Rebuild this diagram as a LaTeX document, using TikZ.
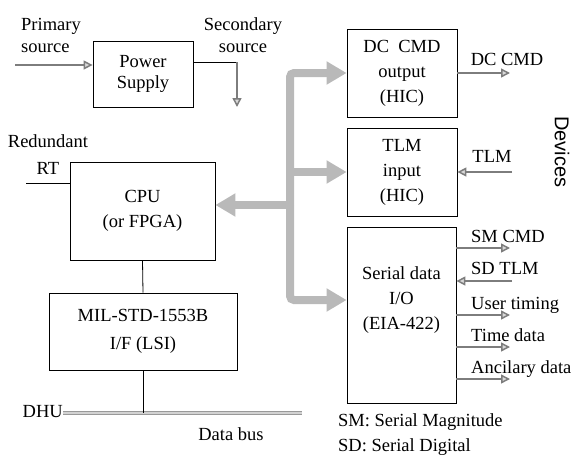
\documentclass[tikz,border=0pt]{standalone}
\usepackage{fontspec}
\setmainfont{Liberation Serif}
\setsansfont{Liberation Sans}
\usepackage{tikz}
\usetikzlibrary{positioning,arrows.meta,calc}
\definecolor{BusGray}{RGB}{185,185,185}
\definecolor{SigGray}{RGB}{125,125,125}

\begin{document}
\begin{tikzpicture}[x=1pt, y=-1pt,
    box/.style={draw, line width=0.8pt, align=center, inner sep=0pt,
        font=\fontsize{18.5}{25}\selectfont},
    txt/.style={align=center, inner sep=0pt, font=\fontsize{18.5}{25}\selectfont},
    lbl/.style={inner sep=0pt, font=\fontsize{18.5}{22}\selectfont},
    sig/.style={draw=SigGray, line width=1.5pt,
        -{Triangle[length=9pt, width=9pt, fill=gray!30]}},
    bus/.style={draw=BusGray, line width=8pt,
        -{Triangle[length=20pt, width=22pt, fill=BusGray]}},
    databus/.style={draw=gray!80, line width=0.8pt, double=gray!35, double distance=2.5pt},
]
\useasboundingbox (0,0) rectangle (578,458);

% blocks
\node[box, minimum width=100, minimum height=66, font=\fontsize{18.5}{21}\selectfont] (psu) at (143,74) {Power\\Supply};
\node[box, minimum width=145, minimum height=98] (cpu) at (142.5,211) {CPU\\(or FPGA)};
\node[box, minimum width=188, minimum height=77, font=\fontsize{18.5}{28}\selectfont] (mil) at (143,331.5) {MIL-STD-1553B\\I/F (LSI)};
\node[box, minimum width=110, minimum height=88] (dccmd) at (402,73) {DC\ \ CMD\\output\\(HIC)};
\node[box, minimum width=110, minimum height=88] (tlm) at (402,172) {TLM\\input\\(HIC)};
\node[box, minimum width=109, minimum height=176] (sio) at (401.5,315) {};
\node[txt] (siotxt) at (401.5,300) {Serial data\\I/O\\(EIA-422)};

% power
\node[lbl, align=left, anchor=west] (prilbl) at (21,35) {Primary\\source};
\node[lbl, align=center] (seclbl) at (243,35) {Secondary\\source};
\coordinate (prim) at (15,65);
\coordinate (sec) at (237,107);
\coordinate (secturn) at (237,62);
\draw[sig] (prim) -- (prim -| psu.west);
\draw[line width=0.8pt] (psu.east |- secturn) -- (secturn);
\draw[sig] (secturn) -- (sec);

% bus to devices
\coordinate (jn) at (290,205);
\draw[bus, rounded corners=4] (jn) |- (dccmd.west);
\draw[bus, rounded corners=4] (jn) |- ([yshift=15pt]sio.west);
\draw[bus] (jn |- tlm.west) -- (tlm.west);
\draw[bus] (jn) -- (cpu.east |- jn);

% redundant RT
\node[lbl, align=center, font=\fontsize{18.5}{27}\selectfont] (rtlbl) at (48,155) {Redundant\\RT};
\coordinate (rtend) at (26,183);
\draw[line width=0.8pt] (rtend) -- (rtend -| cpu.west);

% 1553 bus
\draw[line width=0.8pt] (cpu.south) -- (mil.north);
\node[lbl, anchor=east] (dhu) at (63,412) {DHU};
\coordinate (busend) at (302,413);
\draw[databus] (dhu.east |- busend) -- (busend);
\draw[line width=0.8pt] (mil.south) -- (mil.south |- busend);
\node[lbl] (buslbl) at (231,434) {Data bus};

% device signals
\coordinate (dcout) at (510,73);
\draw[sig] (dccmd.east) -- (dcout);
\node[lbl] (dclbl) at (507,59) {DC CMD};
\coordinate (tlmin) at (512,172);
\draw[sig] (tlmin) -- (tlm.east);
\node[lbl] (tlmlbl) at (492,156) {TLM};
\foreach \yy/\txt/\nm in {248/SM CMD/smcmd, 315/User timing/usrtim, 347/Time data/timdat, 379/Ancilary data/ancdat} {
    \coordinate (\nm) at (510,\yy);
    \draw[sig] (sio.east |- \nm) -- (\nm);
    \node[lbl, anchor=base west] (\nm-lbl) at (471,\yy-6) {\txt};
}
\coordinate (sdtlm) at (512,281);
\draw[sig] (sdtlm) -- (sdtlm -| sio.east);
\node[lbl, anchor=base west] (sdtlm-lbl) at (471,274) {SD TLM};

\node[font=\fontsize{20}{22}\sffamily, rotate=-90, inner sep=0pt] (dev) at (562,152) {Devices};

% notes
\node[lbl, anchor=base west] (smnote) at (338,426) {SM: Serial Magnitude};
\node[lbl, anchor=base west] (sdnote) at (338,451) {SD: Serial Digital};
\end{tikzpicture}
\end{document}
